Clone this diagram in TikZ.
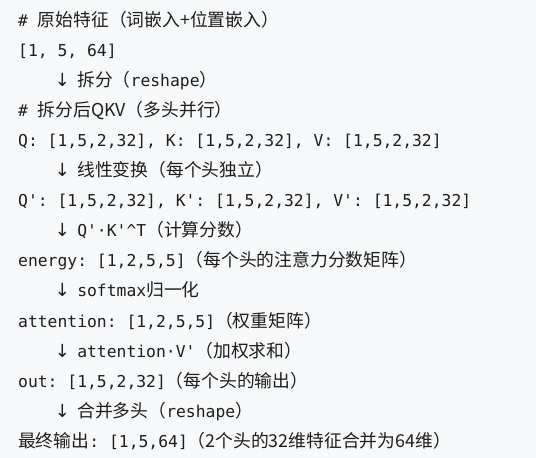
\documentclass[tikz,border=0pt]{standalone}
\usepackage{fontspec}
\setmonofont{DejaVu Sans Mono}
\newfontfamily\cjkfont{Noto Sans CJK SC}[Scale=1.088]
\newfontfamily\arrowfont{DejaVu Sans}
\usepackage{tikz}
\usetikzlibrary{math}

\definecolor{codebg}{RGB}{248,249,250}
\definecolor{codeink}{RGB}{30,30,30}
\newcommand{\zhtext}[1]{{\cjkfont #1}}
\newcommand{\downarr}{\makebox[9.85pt]{\arrowfont\fontsize{18}{20}\selectfont ↓}}
\tikzset{codeline/.style={anchor=base west, inner sep=0pt, text=codeink,
    font=\fontsize{16.36}{20}\selectfont\ttfamily}}

\begin{document}
\begin{tikzpicture}[x=1pt, y=-1pt]

\fill[codebg] (0,0) rectangle (536,458);
\useasboundingbox (0,0) rectangle (536,458);

// Vstup
\tikzmath{ \x = 18; \s = 39.4; \y = 26; \d = 30.1; }

\node[codeline] (l1) at (\x, \y) {\# \zhtext{原始特征（词嵌入+位置嵌入）}};
\node[codeline] (l2) at (\x, \y + \d) {[1, 5, 64]};
\node[codeline] (l3) at (\x + \s, \y + 2*\d) {\downarr{} \zhtext{拆分（}reshape\zhtext{）}};

// Hlavy Q K V
\node[codeline] (l4) at (\x, \y + 3*\d) {\# \zhtext{拆分后QKV（多头并行）}};
\node[codeline] (l5) at (\x, \y + 4*\d) {Q: [1,5,2,32], K: [1,5,2,32], V: [1,5,2,32]};
\node[codeline] (l6) at (\x + \s, \y + 5*\d) {\downarr{} \zhtext{线性变换（每个头独立）}};
\node[codeline] (l7) at (\x, \y + 6*\d) {Q': [1,5,2,32], K': [1,5,2,32], V': [1,5,2,32]};

// Pozornost
\node[codeline] (l8) at (\x + \s, \y + 7*\d) {\downarr{} Q'·K'\textasciicircum T\zhtext{（计算分数）}};
\node[codeline] (l9) at (\x, \y + 8*\d) {energy: [1,2,5,5]\zhtext{（每个头的注意力分数矩阵）}};
\node[codeline] (l10) at (\x + \s, \y + 9*\d) {\downarr{} softmax\zhtext{归一化}};
\node[codeline] (l11) at (\x, \y + 10*\d) {attention: [1,2,5,5]\zhtext{（权重矩阵）}};
\node[codeline] (l12) at (\x + \s, \y + 11*\d) {\downarr{} attention·V'\zhtext{（加权求和）}};

// Vystup
\node[codeline] (l13) at (\x, \y + 12*\d) {out: [1,5,2,32]\zhtext{（每个头的输出）}};
\node[codeline] (l14) at (\x + \s, \y + 13*\d) {\downarr{} \zhtext{合并多头（}reshape\zhtext{）}};
\node[codeline] (l15) at (\x, \y + 14*\d) {\zhtext{最终输出}: [1,5,64]\zhtext{（2个头的32维特征合并为64维）}};

\end{tikzpicture}
\end{document}
